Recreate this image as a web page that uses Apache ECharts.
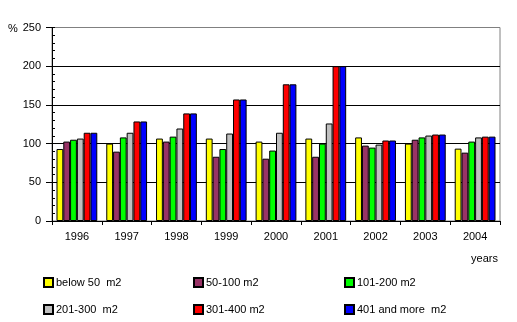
<!DOCTYPE html>
<html><head><meta charset="utf-8">
<script src="https://cdn.jsdelivr.net/npm/echarts@6/dist/echarts.min.js"></script>
<style>html,body{margin:0;padding:0;background:#fff}#c{width:517px;height:322px}</style>
</head><body><div id="c"></div>
<script>
const years = ['1996','1997','1998','1999','2000','2001','2002','2003','2004'];
const seriesNames = ['below 50  m2','50-100 m2','101-200 m2','201-300  m2','301-400 m2','401 and more  m2'];
const colors = ['#ffff00','#993366','#00ff00','#c0c0c0','#ff0000','#0000ff'];
const below50  = [93, 100, 106.5, 106.5, 102.6, 106.5, 108, 100, 93.5];
const s50_100  = [102.6, 89.6, 102.6, 83, 80.5, 83, 97.4, 105, 88.3];
const s101_200 = [105, 108, 109, 93, 91, 100, 94.8, 108, 102.6];
const s201_300 = [106.5, 114, 119.5, 113, 114, 126, 98.7, 110.4, 108];
const s301_400 = [114, 128.6, 139, 157, 176.6, 200, 104, 111.7, 109];
const s401plus = [114, 128.6, 139, 157, 176.6, 200, 104, 111.7, 109];
const yTicks = [0, 50, 100, 150, 200, 250];
const values = [below50, s50_100, s101_200, s201_300, s301_400, s401plus];

const font = 'Liberation Sans, Arial, sans-serif';
const chart = echarts.init(document.getElementById('c'), null, {renderer:'canvas'});
chart.setOption({
  animation: false,
  backgroundColor: '#fff',
  textStyle: {fontFamily: font, fontSize: 11, color: '#000'},
  grid: {left: 52, right: 17, top: 27.5, bottom: 101, show: true, borderColor: '#808080', borderWidth: 1},
  graphic: [{type: 'text', left: 8, top: 23, style: {text: '%', font: '11px ' + font, fill: '#000'}}],
  xAxis: {
    type: 'category', data: years,
    axisLine: {lineStyle: {color: '#000', width: 1}},
    axisTick: {show: true, length: 4, lineStyle: {color: '#000'}},
    axisLabel: {color: '#000', fontFamily: font, fontSize: 11, margin: 10},
    name: 'years', nameLocation: 'end',
    nameTextStyle: {fontFamily: font, fontSize: 11, color: '#000', align: 'right', verticalAlign: 'top', padding: [32, 0, 0, 0]},
    nameGap: -2
  },
  yAxis: [{
    type: 'value', min: yTicks[0], max: yTicks[yTicks.length-1], interval: 50,
    axisLine: {show: true, lineStyle: {color: '#000'}},
    axisTick: {show: true, length: 6, lineStyle: {color: '#000'}},
    axisLabel: {color: '#000', fontFamily: font, fontSize: 11, margin: 11},
    splitLine: {show: true, showMaxLine: false, lineStyle: {color: '#000', width: 1}}
  }, {
    type: 'value', min: 0, max: 250, interval: 10, position: 'left', offset: 0,
    axisLine: {show: true, lineStyle: {color: '#000'}},
    axisTick: {show: true, inside: true, length: 3, lineStyle: {color: '#000'}},
    axisLabel: {show: false}, splitLine: {show: false}
  }],
  legend: [
    {data: [seriesNames[0], seriesNames[3]], left: 43, top: 277},
    {data: [seriesNames[1], seriesNames[4]], left: 193, top: 277},
    {data: [seriesNames[2], seriesNames[5]], left: 344, top: 277}
  ].map(l => Object.assign(l, {orient: 'vertical', itemWidth: 9, itemHeight: 9, itemGap: 16, padding: 0,
      icon: 'rect', textStyle: {fontFamily: font, fontSize: 11, color: '#000', padding: [0,0,0,-2]}})),
  series: values.map((v, i) => ({
    name: seriesNames[i], type: 'bar', data: v, yAxisIndex: 0,
    barWidth: 6.8, barGap: '0%', barCategoryGap: '18%',
    itemStyle: {color: colors[i], borderColor: '#000', borderWidth: 1}
  }))
});
</script></body></html>
